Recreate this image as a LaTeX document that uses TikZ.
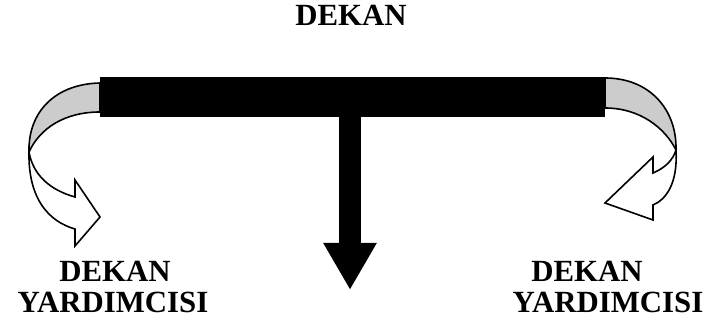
\documentclass[tikz,border=0pt]{standalone}
\usepackage{fontspec}
\setmainfont{Liberation Serif}
\usetikzlibrary{positioning, arrows.meta}

\definecolor{backgray}{RGB}{204,204,204}

\tikzset{
    office/.style={font=\fontsize{15.4}{15.4}\selectfont\bfseries, inner sep=0pt, anchor=base},
    band/.style={draw=black, line width=0.8pt, line join=miter},
    stem/.style={line width=11pt, -{Triangle[width=25pt, length=23.5pt]}},
}

\begin{document}
\begin{tikzpicture}[x=0.5pt, y=-0.5pt]
        \useasboundingbox (0,0) rectangle (712,330);

        \node [office] (dean) at (351,26) {DEKAN};
        \node [office] (deanL) at (115,282) {DEKAN};
        \node [office] (viceL) at (113,313) {YARDIMCISI};
        \node [office] (deanR) at (587,282) {DEKAN};
        \node [office] (viceR) at (608,313) {YARDIMCISI};

        \draw [band, fill=white] (29,152) .. controls (28,200) and (50,222) .. (75,229)
            -- (75,246) -- (100,217) -- (75,180) -- (75,197)
            .. controls (50,190) and (33,175) .. cycle;
        \draw [band, fill=backgray] (100,83) .. controls (55,84) and (28,112) .. (29,152)
            .. controls (40,128) and (65,112) .. (100,112) -- cycle;

        \draw [band, fill=white] (676,150) .. controls (678,185) and (665,200) .. (653,205)
            -- (653,220) -- (605,203) -- (653,157) -- (653,173)
            .. controls (665,168) and (673,160) .. cycle;
        \draw [band, fill=backgray] (605,78) .. controls (650,78) and (677,110) .. (676,150)
            .. controls (665,128) and (640,108) .. (605,108) -- cycle;

        \node [fill=black, inner sep=0pt, minimum width=252.5pt, minimum height=20pt] (bar) at (352.5,97) {};
        \coordinate (tip) at (350,290);
        \draw [stem] (bar.south -| tip) -- (tip);
    \end{tikzpicture}
\end{document}
